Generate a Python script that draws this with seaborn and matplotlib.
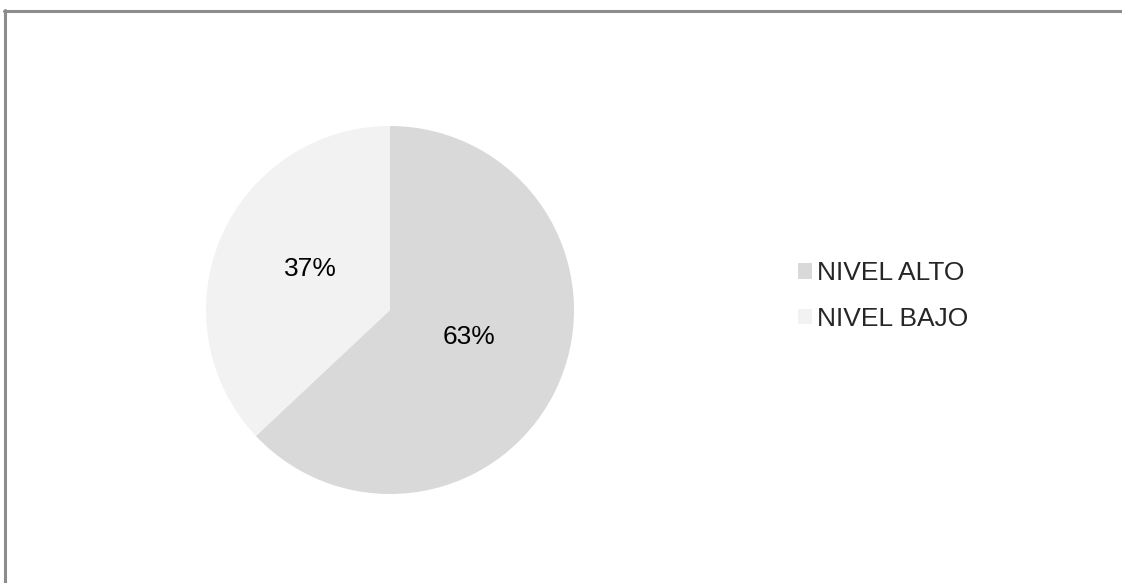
#!/usr/bin/env python3
"""Pie chart: NIVEL ALTO vs NIVEL BAJO."""

import matplotlib
matplotlib.use("Agg")
import matplotlib.pyplot as plt
from matplotlib.lines import Line2D
from matplotlib.patches import Patch
import seaborn as sns

categories = ["NIVEL ALTO", "NIVEL BAJO"]
values = [63, 37]
colors = ["#d9d9d9", "#f2f2f2"]

W, H = 1122, 583


def main():
    sns.set_theme(style="white")
    plt.rcParams['font.family'] = ['Liberation Sans', 'DejaVu Sans']

    fig = plt.figure(figsize=(W / 100, H / 100), dpi=100)
    fig.patch.set_facecolor("white")

    # pie centred at (390, 310) px, radius 184 px
    cx, cy, r = 390, 310, 184
    ax = fig.add_axes([(cx - r) / W, (H - cy - r) / H, 2 * r / W, 2 * r / H])
    wedges, texts, autotexts = ax.pie(
        values, colors=colors, startangle=90, counterclock=False,
        autopct='%1.0f%%', pctdistance=0.47, radius=1,
        wedgeprops=dict(linewidth=0),
        textprops=dict(fontsize=19, color="black"),
    )
    for t in autotexts:
        t.set_va("baseline")
    ax.set_xlim(-1, 1)
    ax.set_ylim(-1, 1)
    ax.set_aspect("auto")
    ax.axis("off")

    handles = [Patch(facecolor=c, edgecolor="none") for c in colors]
    fig.legend(handles, categories, loc="center left",
               bbox_to_anchor=(798 / W, 1 - 296 / H),
               frameon=False, fontsize=19, borderpad=0, borderaxespad=0,
               handlelength=0.53, handleheight=0.53, handletextpad=0.2,
               labelspacing=0.82)

    # chart frame (top and left edges)
    frame_col = "#8c8c8c"
    fig.add_artist(Line2D([4 / W, 1], [1 - 11 / H, 1 - 11 / H],
                          transform=fig.transFigure, color=frame_col, lw=2.2))
    fig.add_artist(Line2D([5 / W, 5 / W], [1 - 10 / H, 0],
                          transform=fig.transFigure, color=frame_col, lw=2.2))

    fig.savefig("out.png", dpi=100)


if __name__ == "__main__":
    main()
